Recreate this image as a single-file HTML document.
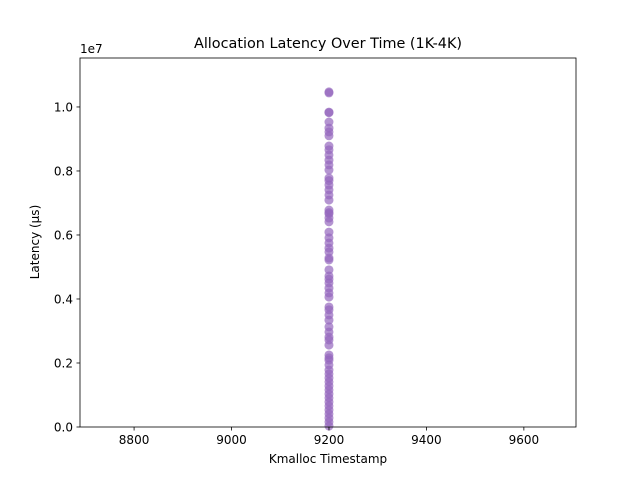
<!DOCTYPE html>
<html><head><meta charset="utf-8"><style>
body{margin:0;background:#fff;font-family:"DejaVu Sans","Liberation Sans",sans-serif;}
</style></head><body>
<svg id="chart" width="640" height="480" xmlns="http://www.w3.org/2000/svg" font-family="DejaVu Sans, Liberation Sans, sans-serif">
<rect width="640" height="480" fill="#fff"/>
<text x="328" y="48" font-size="14.4" text-anchor="middle">Allocation Latency Over Time (1K-4K)</text>
<text x="328" y="467" font-size="12" text-anchor="middle" dy="-4">Kmalloc Timestamp</text>
<text transform="translate(39,242) rotate(-90)" font-size="12" text-anchor="middle">Latency (µs)</text>
<text x="80" y="53" font-size="12">1e7</text>
<g id="points"></g>
<g id="axes"></g>
</svg>
<script>
const xVals=[9200];
const yVals=[10.47,10.44,9.84,9.82,9.53,9.34,9.22,9.1,8.78,8.66,8.5,8.34,8.19,8.03,7.78,7.7,7.56,7.41,7.25,7.09,6.78,6.7,6.66,6.53,6.41,6.09,5.91,5.75,5.59,5.47,5.28,5.22,4.91,4.72,4.62,4.5,4.34,4.19,4.06,3.75,3.66,3.5,3.34,3.13,2.97,2.81,2.72,2.56,2.25,2.16,2.09,1.94,1.78,1.66,1.53,1.41,1.28,1.16,1.03,0.91,0.78,0.66,0.53,0.41,0.28,0.16,0.03];
const xTicks=[8800,9000,9200,9400,9600];
const yTicks=[0,0.2,0.4,0.6,0.8,1.0];
const X0=80,X1=576,Y0=58,Y1=427,xmin=8689,xmax=9707,ymin=0,ymax=11.53;
const sx=v=>X0+(v-xmin)/(xmax-xmin)*(X1-X0);
const sy=v=>Y1-(v-ymin)/(ymax-ymin)*(Y1-Y0);
const NS="http://www.w3.org/2000/svg";
const pts=document.getElementById('points');
yVals.forEach(v=>{
 const c=document.createElementNS(NS,'circle');
 c.setAttribute('cx',sx(xVals[0]));c.setAttribute('cy',sy(v));c.setAttribute('r',4.5);
 c.setAttribute('fill','#9467bd');c.setAttribute('fill-opacity','0.7');
 
 
 pts.appendChild(c);
});
const ax=document.getElementById('axes');
let h='<rect x="'+X0+'" y="'+Y0+'" width="'+(X1-X0)+'" height="'+(Y1-Y0)+'" fill="none" stroke="#000" stroke-width="0.8"/>';
xTicks.forEach(t=>{const x=sx(t);h+='<line x1="'+x+'" x2="'+x+'" y1="'+Y1+'" y2="'+(Y1+3.5)+'" stroke="#000" stroke-width="0.8"/><text x="'+x+'" y="'+(Y1+17)+'" font-size="12" text-anchor="middle">'+t+'</text>';});
yTicks.forEach(t=>{const y=sy(t*10);h+='<line x1="'+(X0-3.5)+'" x2="'+X0+'" y1="'+y+'" y2="'+y+'" stroke="#000" stroke-width="0.8"/><text x="'+(X0-7)+'" y="'+(y+4.5)+'" font-size="12" text-anchor="end">'+t.toFixed(1)+'</text>';});
ax.innerHTML=h;


</script>
</body></html>
